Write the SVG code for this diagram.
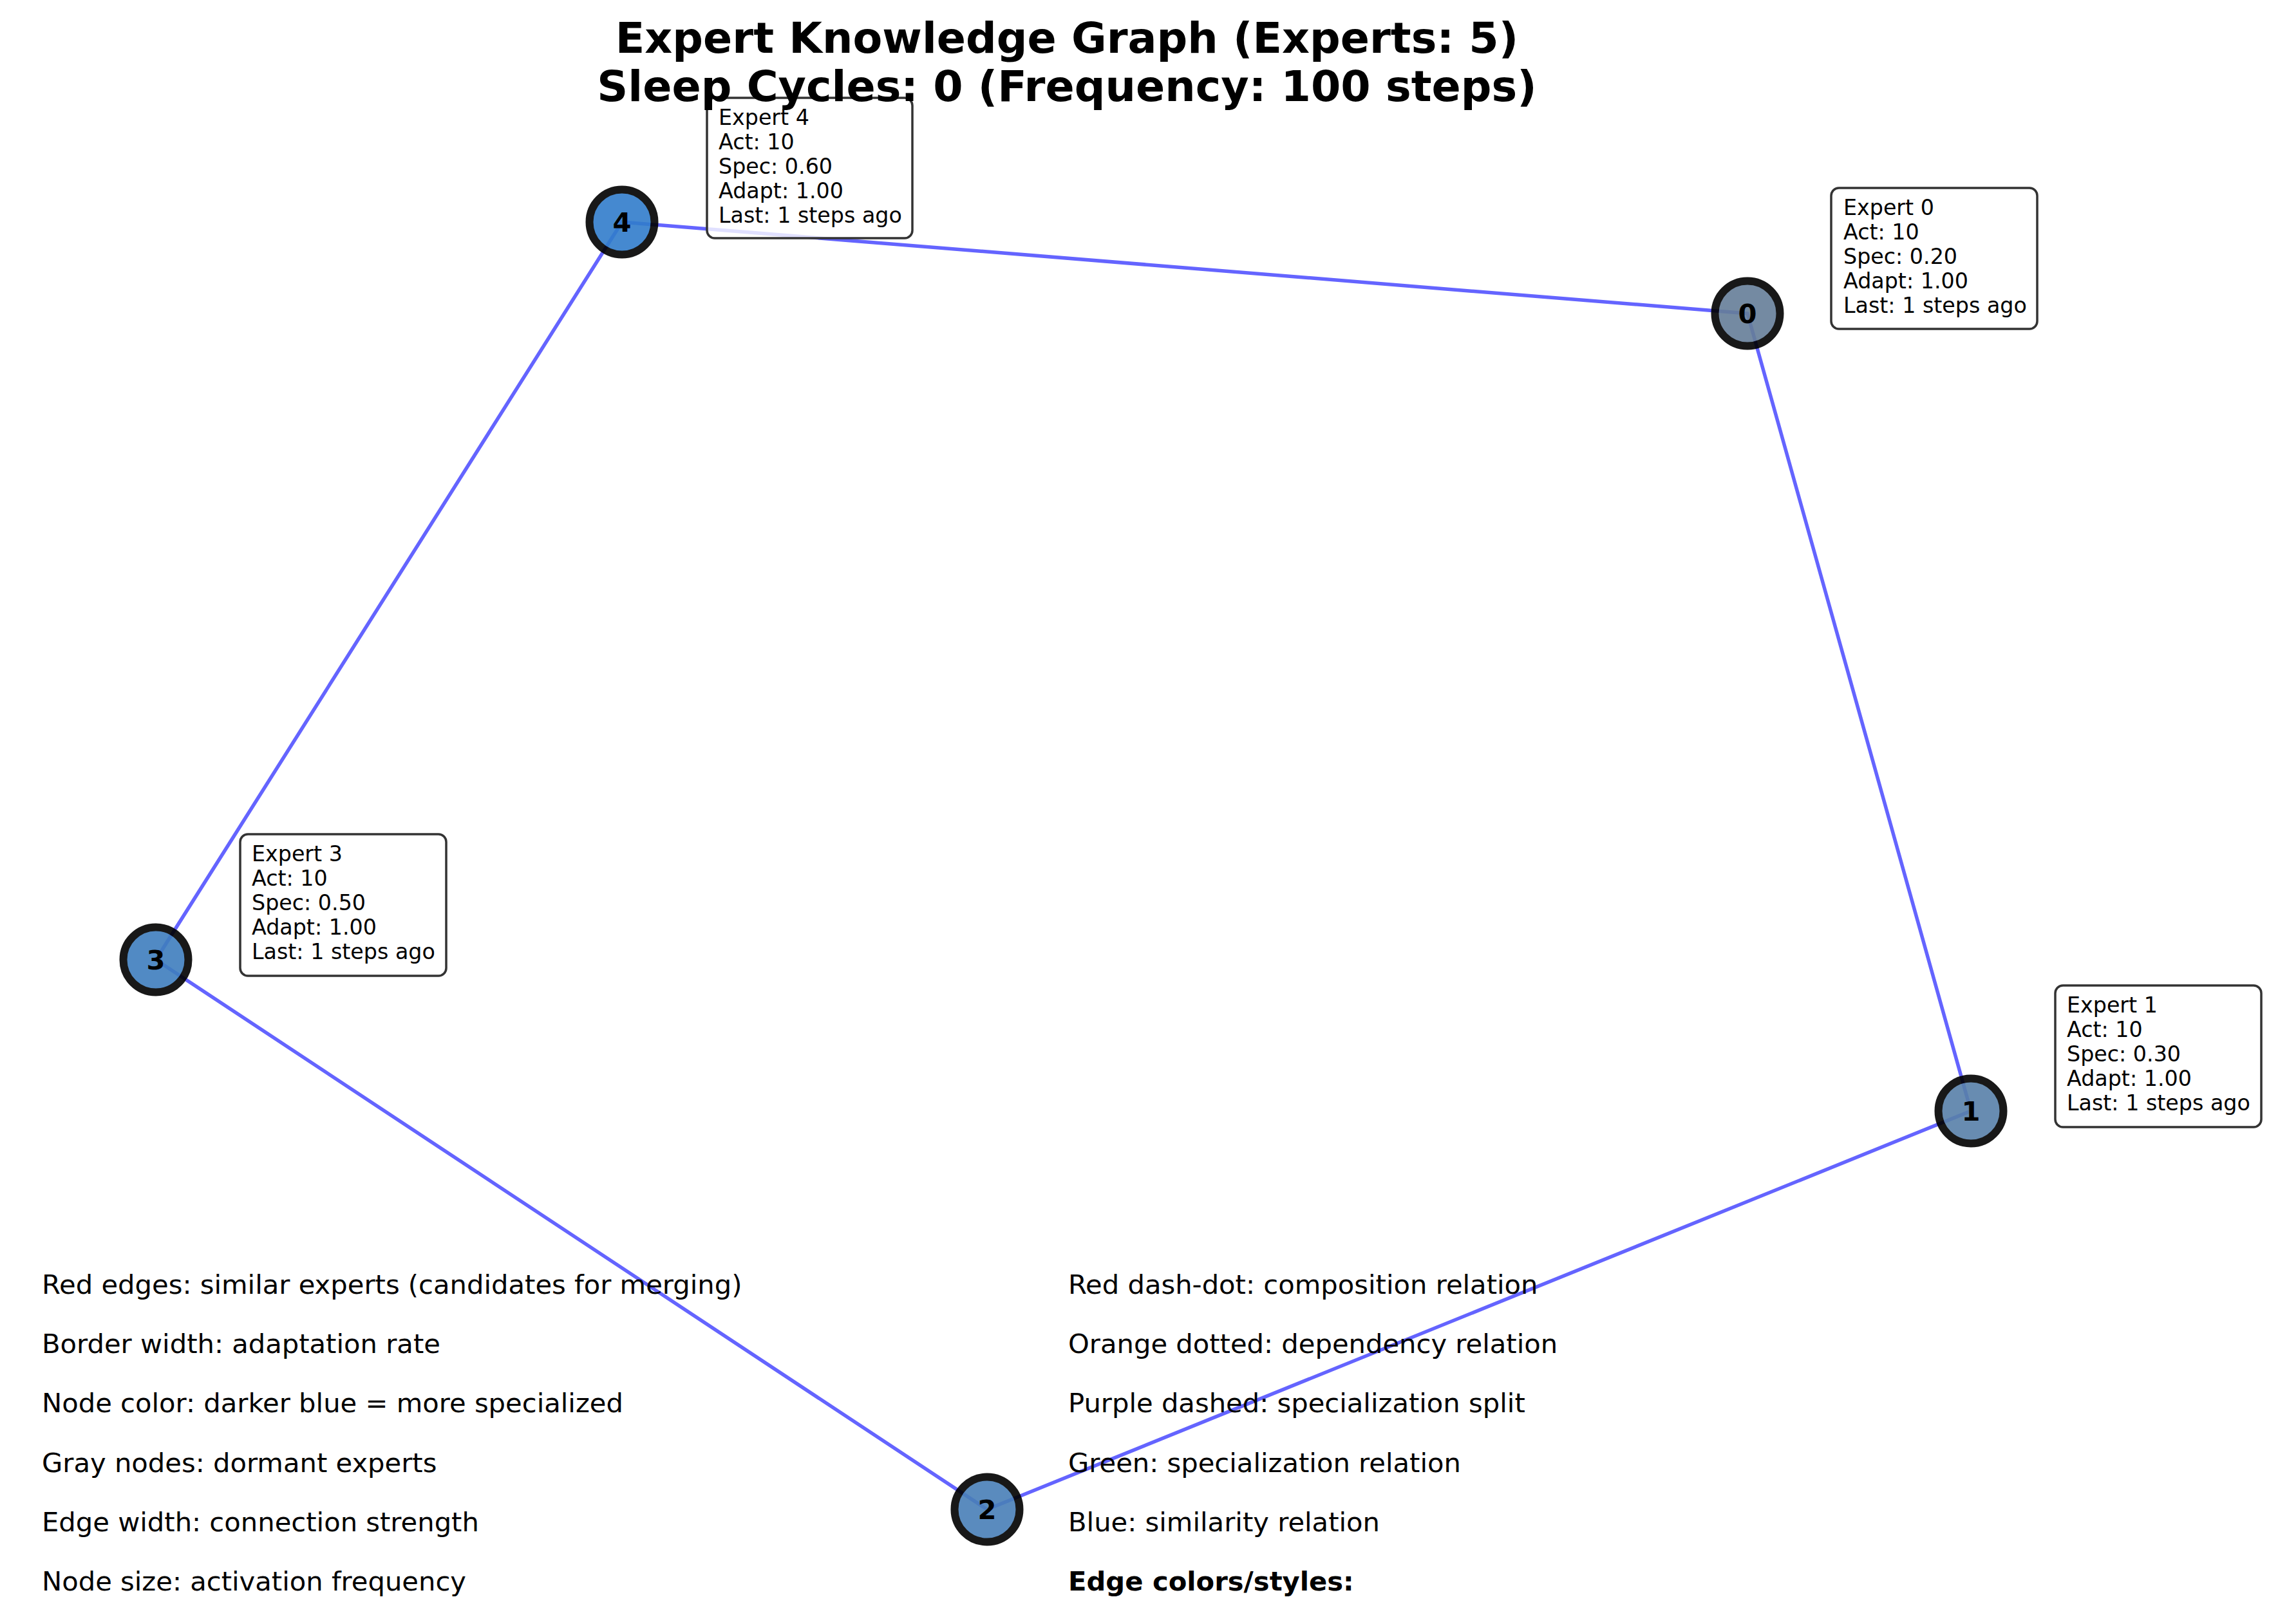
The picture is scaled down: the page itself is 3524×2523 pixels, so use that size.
<svg xmlns="http://www.w3.org/2000/svg" width="3524" height="2523" viewBox="0 0 3524 2523">
<style>
.title{font-family:"DejaVu Sans",sans-serif;font-weight:bold;font-size:66.7px;fill:#000;text-anchor:middle}
.leg{font-family:"DejaVu Sans",sans-serif;font-size:41.7px;fill:#000}
.legb{font-family:"DejaVu Sans",sans-serif;font-size:41.7px;font-weight:bold;fill:#000}
.edge{stroke:#6464ff;stroke-width:5.5;fill:none;stroke-linecap:round}
.node{stroke:#000;stroke-width:12;opacity:0.9}
.nlab{font-family:"DejaVu Sans",sans-serif;font-size:41.7px;font-weight:bold;fill:#000;text-anchor:middle}
.box{fill:#fff;fill-opacity:0.8;stroke:#333;stroke-width:3.5}
.info{font-family:"DejaVu Sans",sans-serif;font-size:33.3px;fill:#000}
</style>
<rect width="3524" height="2523" fill="#fff"/>
<g id="connectors">
<line class="edge" x1="966" y1="345" x2="2714" y2="487"/>
<line class="edge" x1="2714" y1="487" x2="3061" y2="1726"/>
<line class="edge" x1="3061" y1="1726" x2="1533" y2="2345"/>
<line class="edge" x1="1533" y1="2345" x2="242" y2="1491"/>
<line class="edge" x1="242" y1="1491" x2="966" y2="345"/>
</g>
<g id="node0">
<circle class="node" cx="2714" cy="487" r="50.5" fill="#667e99"/>
<text class="nlab" x="2714" y="502">0</text>
</g>
<g id="node1">
<circle class="node" cx="3061" cy="1726" r="50.5" fill="#5880a9"/>
<text class="nlab" x="3061" y="1741">1</text>
</g>
<g id="node2">
<circle class="node" cx="1533" cy="2345" r="50.5" fill="#497fb7"/>
<text class="nlab" x="1533" y="2360">2</text>
</g>
<g id="node3">
<circle class="node" cx="242" cy="1491" r="50.5" fill="#3f7ebe"/>
<text class="nlab" x="242" y="1506">3</text>
</g>
<g id="node4">
<circle class="node" cx="966" cy="345" r="50.5" fill="#317dcb"/>
<text class="nlab" x="966" y="360">4</text>
</g>
<g id="info4">
<rect class="box" x="1098" y="152" width="319" height="218" rx="12"/>
<text class="info" x="1116" y="194">Expert 4</text>
<text class="info" x="1116" y="232">Act: 10</text>
<text class="info" x="1116" y="270">Spec: 0.60</text>
<text class="info" x="1116" y="308">Adapt: 1.00</text>
<text class="info" x="1116" y="346">Last: 1 steps ago</text>
</g>
<g id="info0">
<rect class="box" x="2844" y="292" width="320" height="219" rx="12"/>
<text class="info" x="2863" y="334">Expert 0</text>
<text class="info" x="2863" y="372">Act: 10</text>
<text class="info" x="2863" y="410">Spec: 0.20</text>
<text class="info" x="2863" y="448">Adapt: 1.00</text>
<text class="info" x="2863" y="486">Last: 1 steps ago</text>
</g>
<g id="info3">
<rect class="box" x="373" y="1296" width="320" height="220" rx="12"/>
<text class="info" x="391" y="1338">Expert 3</text>
<text class="info" x="391" y="1376">Act: 10</text>
<text class="info" x="391" y="1414">Spec: 0.50</text>
<text class="info" x="391" y="1452">Adapt: 1.00</text>
<text class="info" x="391" y="1490">Last: 1 steps ago</text>
</g>
<g id="info1">
<rect class="box" x="3192" y="1531" width="320" height="220" rx="12"/>
<text class="info" x="3210" y="1573">Expert 1</text>
<text class="info" x="3210" y="1611">Act: 10</text>
<text class="info" x="3210" y="1649">Spec: 0.30</text>
<text class="info" x="3210" y="1687">Adapt: 1.00</text>
<text class="info" x="3210" y="1725">Last: 1 steps ago</text>
</g>
<g id="title">
<text class="title" x="1657" y="82">Expert Knowledge Graph (Experts: 5)</text>
<text class="title" x="1657" y="157">Sleep Cycles: 0 (Frequency: 100 steps)</text>
</g>
<g id="legend-left">
<text class="leg" x="65" y="2010">Red edges: similar experts (candidates for merging)</text>
<text class="leg" x="65" y="2102">Border width: adaptation rate</text>
<text class="leg" x="65" y="2194">Node color: darker blue = more specialized</text>
<text class="leg" x="65" y="2287">Gray nodes: dormant experts</text>
<text class="leg" x="65" y="2379">Edge width: connection strength</text>
<text class="leg" x="65" y="2471">Node size: activation frequency</text>
</g>
<g id="legend-right">
<text class="leg" x="1659" y="2010">Red dash-dot: composition relation</text>
<text class="leg" x="1659" y="2102">Orange dotted: dependency relation</text>
<text class="leg" x="1659" y="2194">Purple dashed: specialization split</text>
<text class="leg" x="1659" y="2287">Green: specialization relation</text>
<text class="leg" x="1659" y="2379">Blue: similarity relation</text>
<text class="legb" x="1659" y="2471">Edge colors/styles:</text>
</g>
</svg>
